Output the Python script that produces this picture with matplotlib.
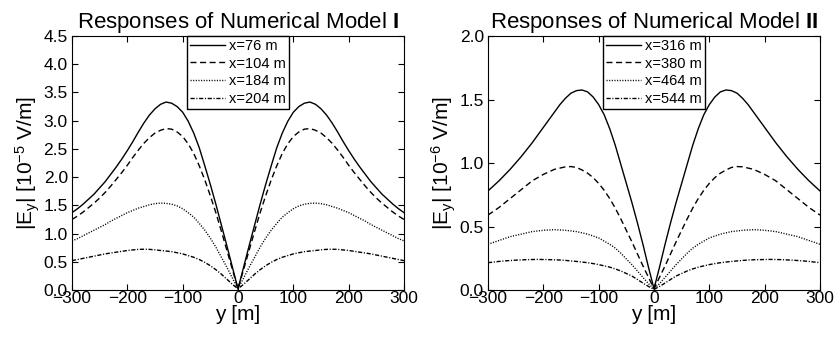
import matplotlib
matplotlib.use('Agg')
import matplotlib.pyplot as plt

plt.rcParams['font.family'] = ['Liberation Sans', 'DejaVu Sans']
plt.rcParams['mathtext.fontset'] = 'custom'
plt.rcParams['mathtext.rm'] = 'Liberation Sans'
plt.rcParams['mathtext.it'] = 'Liberation Sans'
plt.rcParams['mathtext.bf'] = 'Liberation Sans:bold'

# profile positions (m)
y_pos = [-300, -290, -280, -270, -260, -250, -240, -230, -220, -210, -200, -190, -180, -170, -160, -150,
         -140, -130, -120, -110, -100, -90, -80, -70, -60, -50, -40, -30, -20, -10, 0,
         10, 20, 30, 40, 50, 60, 70, 80, 90, 100, 110, 120, 130, 140, 150,
         160, 170, 180, 190, 200, 210, 220, 230, 240, 250, 260, 270, 280, 290, 300]

# Model I, |Ey| in 1e-5 V/m
m1_x76 = [1.37, 1.44, 1.52, 1.61, 1.70, 1.81, 1.92, 2.05, 2.18, 2.32, 2.47, 2.63, 2.80, 2.96, 3.10, 3.21,
          3.29, 3.33, 3.31, 3.25, 3.15, 2.99, 2.78, 2.52, 2.20, 1.87, 1.52, 1.15, 0.78, 0.40, 0.02,
          0.40, 0.78, 1.15, 1.52, 1.87, 2.20, 2.52, 2.78, 2.99, 3.15, 3.25, 3.31, 3.33, 3.29, 3.21,
          3.10, 2.96, 2.80, 2.63, 2.47, 2.32, 2.18, 2.05, 1.92, 1.81, 1.70, 1.61, 1.52, 1.44, 1.37]
m1_x104 = [1.25, 1.31, 1.38, 1.46, 1.54, 1.63, 1.73, 1.84, 1.96, 2.08, 2.21, 2.35, 2.48, 2.60, 2.70, 2.78,
           2.83, 2.86, 2.85, 2.80, 2.72, 2.59, 2.42, 2.20, 1.95, 1.67, 1.37, 1.04, 0.70, 0.36, 0.02,
           0.36, 0.70, 1.04, 1.37, 1.67, 1.95, 2.20, 2.42, 2.59, 2.72, 2.80, 2.85, 2.86, 2.83, 2.78,
           2.70, 2.60, 2.48, 2.35, 2.21, 2.08, 1.96, 1.84, 1.73, 1.63, 1.54, 1.46, 1.38, 1.31, 1.25]
m1_x184 = [0.87, 0.91, 0.96, 1.01, 1.06, 1.11, 1.16, 1.22, 1.27, 1.32, 1.37, 1.41, 1.45, 1.48, 1.51, 1.53,
           1.54, 1.535, 1.52, 1.49, 1.44, 1.37, 1.29, 1.18, 1.06, 0.92, 0.76, 0.58, 0.40, 0.21, 0.02,
           0.21, 0.40, 0.58, 0.76, 0.92, 1.06, 1.18, 1.29, 1.37, 1.44, 1.49, 1.52, 1.535, 1.54, 1.53,
           1.51, 1.48, 1.45, 1.41, 1.37, 1.32, 1.27, 1.22, 1.16, 1.11, 1.06, 1.01, 0.96, 0.91, 0.87]
m1_x204 = [0.52, 0.54, 0.56, 0.58, 0.60, 0.62, 0.64, 0.655, 0.67, 0.685, 0.70, 0.71, 0.72, 0.722, 0.72, 0.712,
           0.70, 0.69, 0.68, 0.66, 0.64, 0.61, 0.58, 0.54, 0.49, 0.43, 0.36, 0.28, 0.19, 0.10, 0.02,
           0.10, 0.19, 0.28, 0.36, 0.43, 0.49, 0.54, 0.58, 0.61, 0.64, 0.66, 0.68, 0.69, 0.70, 0.712,
           0.72, 0.722, 0.72, 0.71, 0.70, 0.685, 0.67, 0.655, 0.64, 0.62, 0.60, 0.58, 0.56, 0.54, 0.52]

# Model II, |Ey| in 1e-6 V/m
m2_x316 = [0.78, 0.82, 0.86, 0.905, 0.95, 1.00, 1.05, 1.105, 1.16, 1.22, 1.28, 1.34, 1.40, 1.46, 1.51, 1.55,
           1.57, 1.575, 1.56, 1.52, 1.46, 1.38, 1.27, 1.14, 0.99, 0.84, 0.69, 0.53, 0.36, 0.18, 0.01,
           0.18, 0.36, 0.53, 0.69, 0.84, 0.99, 1.14, 1.27, 1.38, 1.46, 1.52, 1.56, 1.575, 1.57, 1.55,
           1.51, 1.46, 1.40, 1.34, 1.28, 1.22, 1.16, 1.105, 1.05, 1.00, 0.95, 0.905, 0.86, 0.82, 0.78]
m2_x380 = [0.59, 0.62, 0.65, 0.685, 0.72, 0.755, 0.79, 0.825, 0.86, 0.885, 0.91, 0.93, 0.95, 0.96, 0.97, 0.972,
           0.965, 0.945, 0.92, 0.885, 0.84, 0.785, 0.72, 0.645, 0.56, 0.47, 0.38, 0.285, 0.19, 0.10, 0.01,
           0.10, 0.19, 0.285, 0.38, 0.47, 0.56, 0.645, 0.72, 0.785, 0.84, 0.885, 0.92, 0.945, 0.965, 0.972,
           0.97, 0.96, 0.95, 0.93, 0.91, 0.885, 0.86, 0.825, 0.79, 0.755, 0.72, 0.685, 0.65, 0.62, 0.59]
m2_x464 = [0.36, 0.375, 0.39, 0.405, 0.42, 0.43, 0.44, 0.45, 0.46, 0.465, 0.47, 0.473, 0.475, 0.473, 0.47, 0.465,
           0.46, 0.45, 0.44, 0.425, 0.41, 0.385, 0.36, 0.33, 0.29, 0.245, 0.20, 0.15, 0.10, 0.05, 0.01,
           0.05, 0.10, 0.15, 0.20, 0.245, 0.29, 0.33, 0.36, 0.385, 0.41, 0.425, 0.44, 0.45, 0.46, 0.465,
           0.47, 0.473, 0.475, 0.473, 0.47, 0.465, 0.46, 0.45, 0.44, 0.43, 0.42, 0.405, 0.39, 0.375, 0.36]
m2_x544 = [0.215, 0.22, 0.225, 0.229, 0.232, 0.235, 0.237, 0.239, 0.240, 0.241, 0.240, 0.239, 0.238, 0.236, 0.233, 0.229,
           0.225, 0.22, 0.215, 0.208, 0.20, 0.19, 0.18, 0.166, 0.15, 0.13, 0.11, 0.083, 0.055, 0.028, 0.005,
           0.028, 0.055, 0.083, 0.11, 0.13, 0.15, 0.166, 0.18, 0.19, 0.20, 0.208, 0.215, 0.22, 0.225, 0.229,
           0.233, 0.236, 0.238, 0.239, 0.240, 0.241, 0.240, 0.239, 0.237, 0.235, 0.232, 0.229, 0.225, 0.22, 0.215]

labels1 = ['x=76 m', 'x=104 m', 'x=184 m', 'x=204 m']
labels2 = ['x=316 m', 'x=380 m', 'x=464 m', 'x=544 m']
styles = ['-', (0, (4.3, 2.6)), (0, (0.8, 1.1)), (0, (3.0, 1.2, 0.8, 1.2))]

fig = plt.figure(figsize=(8.37, 3.43), dpi=100)
ax1 = fig.add_axes([0.086, 0.1545, 0.3967, 0.7405])
ax2 = fig.add_axes([0.583, 0.1545, 0.3967, 0.7405])


def draw(ax, series, labels, ymax, yticks, ylab, title):
    for vals, lab, ls in zip(series, labels, styles):
        ax.plot(y_pos, vals, linestyle=ls, color='black', lw=1.0, label=lab)
    ax.set_xlim(-300, 300)
    ax.set_ylim(0, ymax)
    ax.set_xticks([-300, -200, -100, 0, 100, 200, 300])
    ax.set_yticks(yticks)
    ax.set_yticklabels(['%.1f' % t for t in yticks])
    ax.tick_params(direction='in', top=True, right=True, labelsize=12.5, length=4, pad=3)
    ax.tick_params(axis='x', pad=1)
    ax.set_xlabel('y [m]', fontsize=15, labelpad=-1)
    ax.set_ylabel(ylab, fontsize=15, labelpad=1)
    ax.set_title(title, fontsize=16, pad=6)
    leg = ax.legend(loc='upper center', borderaxespad=0, fontsize=10.5, fancybox=False,
                    framealpha=1, edgecolor='black', handlelength=2.4, handletextpad=0.3,
                    labelspacing=0.25, borderpad=0.2)
    leg.get_frame().set_linewidth(1.0)


draw(ax1, [m1_x76, m1_x104, m1_x184, m1_x204], labels1, 4.5,
     [0, 0.5, 1, 1.5, 2, 2.5, 3, 3.5, 4, 4.5],
     r'|E$_\mathrm{y}$| [10$^{-5}$ V/m]', r'Responses of Numerical Model $\mathbf{I}$')
draw(ax2, [m2_x316, m2_x380, m2_x464, m2_x544], labels2, 2.0,
     [0, 0.5, 1, 1.5, 2],
     r'|E$_\mathrm{y}$| [10$^{-6}$ V/m]', r'Responses of Numerical Model $\mathbf{II}$')

fig.savefig('out.png', dpi=100)
